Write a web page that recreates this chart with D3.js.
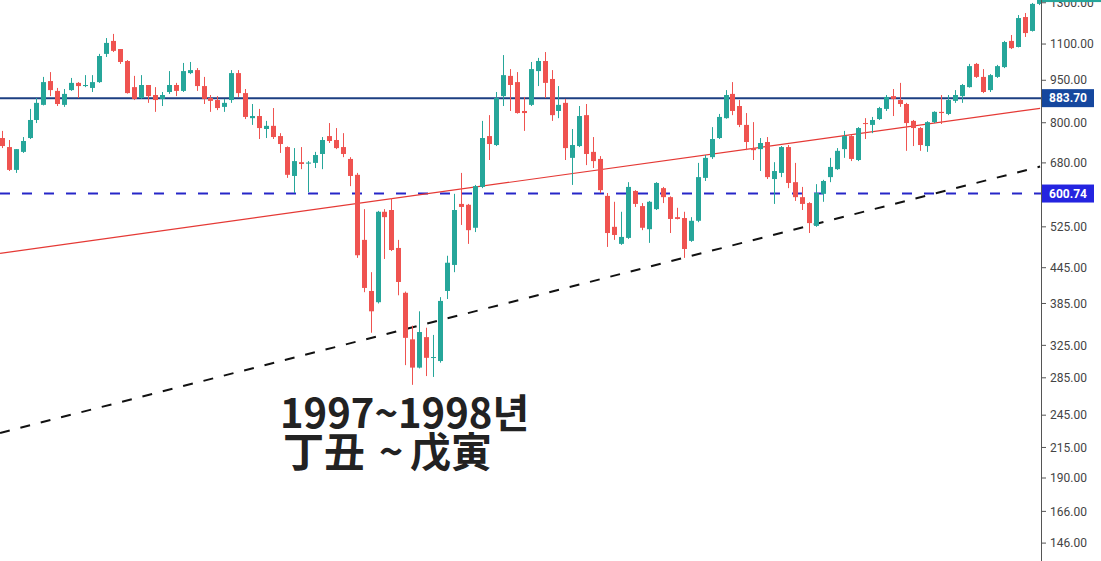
<!DOCTYPE html>
<html>
<head>
<meta charset="utf-8">
<script src="https://cdn.jsdelivr.net/npm/d3@7"></script>
<style>
  body { margin: 0; background: #fff; }
  svg { display: block; }
</style>
</head>
<body>
<svg id="chart" width="1101" height="561"></svg>
<script>
// monthly candles (log price axis)
const opens = [752,725,661,711,752,809,860,947,910,860,913,940,928,921,943,1057,1114,1078,1027,924,
  884,932,895,881,906,932,910,978,990,928,884,877,853,877,978,902,815,822,780,790,
  758,725,645,682,678,680,705,758,746,725,691,648,498,405,387,558,562,482,402,333,
  297,336,309,305,405,450,576,574,523,617,758,731,891,967,943,839,860,986,1027,955,
  839,867,694,728,825,711,691,595,525,490,502,607,571,520,564,614,592,546,544,496,
  538,640,696,752,815,899,856,793,722,719,740,637,653,725,629,592,578,527,600,642,
  663,719,758,688,799,793,812,846,891,877,863,806,783,728,802,836,829,874,891,924,
  1015,963,913,963,1002,1114,1087,1227,1160,1294];
const highs = [774,746,719,755,846,884,963,982,921,917,959,943,970,970,1057,1127,1146,1078,1031,967,
  970,932,924,906,986,940,1019,1023,998,963,895,891,881,990,990,917,863,846,806,849,
  767,727,722,725,685,711,755,799,783,767,696,653,564,437,560,564,590,498,404,352,
  373,349,339,395,467,600,653,576,622,806,825,906,1052,994,982,888,1023,1040,1065,990,
  928,881,780,856,863,755,699,602,581,558,629,609,578,583,629,617,594,567,558,546,
  680,702,786,829,913,943,877,832,802,752,755,682,728,731,680,617,580,624,635,694,
  722,774,761,786,815,819,853,895,917,940,867,809,786,805,838,895,895,913,936,1015,
  1019,994,974,1011,1114,1141,1237,1247,1299,1360];
const lows = [722,658,653,708,749,799,858,891,856,853,910,884,924,906,940,1044,1065,1015,900,877,
  881,867,836,856,899,891,906,974,910,863,836,842,836,867,888,812,793,749,752,749,
  708,640,602,663,604,666,663,737,719,696,619,463,403,342,385,461,476,398,300,277,
  296,287,286,303,392,437,529,490,514,614,688,728,856,839,830,774,856,928,884,806,
  815,688,622,725,674,666,602,484,498,488,500,569,518,492,562,578,512,541,463,494,
  535,632,691,749,813,825,786,716,688,658,637,576,642,614,583,562,512,525,581,629,
  661,694,685,685,749,767,809,839,822,853,714,728,714,711,799,796,825,867,867,922,
  959,902,906,959,998,1078,1085,1132,1157,1288];
const closes = [728,661,719,743,809,867,943,913,863,899,940,928,932,943,1048,1105,1070,1023,902,881,
  932,891,877,895,932,910,986,990,928,881,874,849,867,978,902,819,822,783,790,755,
  734,648,685,677,681,702,746,743,722,705,645,468,410,373,558,546,478,420,335,297,
  343,309,310,389,454,562,569,518,619,752,734,884,970,932,832,832,994,1027,940,825,
  860,722,731,822,705,685,609,512,508,504,617,576,523,581,627,592,542,542,480,538,
  642,694,749,819,895,839,793,740,716,737,642,658,725,627,592,576,533,602,632,669,
  714,758,691,783,796,809,849,888,881,863,799,783,731,802,836,832,877,895,932,1006,
  963,906,970,1006,1109,1082,1222,1150,1294,1352];

// price axis
const tickValues = [1300, 1100, 950, 800, 680, 525, 445, 385, 325, 285, 245, 215, 190, 166, 146];
const levelPrices = [883.70, 600.74];
const levelColors = ['#1c3f82', '#2626c8'];
const levelBoxColors = ['#15479e', '#2424e0'];

// trend lines, anchored by [candle index, price]
const redTrend = [[-0.24, 471.7], [149.2, 848.1]];
const blackTrend = [[-0.24, 228.0], [149.2, 670.0]];

const captionTop = '1997~1998년';
const captionBottom = ['丁丑', '~', '戊寅'];

const width = 1101, height = 561;
const plotRight = 1041;

const svg = d3.select('#chart');

const x = d3.scaleLinear().domain([0, opens.length - 1]).range([1.7, 1038.7]);
const y = d3.scaleLog().domain([135.8, 1314.6]).range([height, 0]);

const candles = opens.map((o, i) => ({ i, o, h: highs[i], l: lows[i], c: closes[i] }));

const plot = svg.append('g');
plot.append('clipPath').attr('id', 'clip')
  .append('rect').attr('x', 0).attr('y', 0).attr('width', plotRight).attr('height', height);
const inner = plot.append('g').attr('clip-path', 'url(#clip)');

// horizontal levels
inner.selectAll('line.level')
  .data(levelPrices)
  .enter().append('line')
  .attr('class', 'level')
  .attr('x1', 0).attr('x2', plotRight)
  .attr('y1', d => y(d)).attr('y2', d => y(d))
  .attr('stroke', (d, k) => levelColors[k])
  .attr('stroke-width', 2)
  .attr('stroke-dasharray', (d, k) => k === 1 ? '10,12' : null);

// red trend line
inner.append('line')
  .attr('x1', x(redTrend[0][0])).attr('y1', y(redTrend[0][1]))
  .attr('x2', x(redTrend[1][0])).attr('y2', y(redTrend[1][1]))
  .attr('stroke', '#e53935').attr('stroke-width', 1.2);

// black dashed trend line
inner.append('line')
  .attr('x1', x(blackTrend[0][0])).attr('y1', y(blackTrend[0][1]))
  .attr('x2', x(blackTrend[1][0])).attr('y2', y(blackTrend[1][1]))
  .attr('stroke', '#111').attr('stroke-width', 2)
  .attr('stroke-dasharray', '10,11');

// candles
const up = '#26a69a', down = '#ef5350';
const bodyW = 5;
const g = inner.selectAll('g.candle')
  .data(candles)
  .enter().append('g')
  .attr('class', 'candle');

g.append('line')
  .attr('x1', d => Math.round(x(d.i)) + 0.5)
  .attr('x2', d => Math.round(x(d.i)) + 0.5)
  .attr('y1', d => y(d.h))
  .attr('y2', d => y(d.l))
  .attr('stroke', d => d.c >= d.o ? up : down)
  .attr('stroke-width', 1);

g.append('rect')
  .attr('x', d => Math.round(x(d.i)) + 0.5 - bodyW / 2)
  .attr('y', d => y(Math.max(d.o, d.c)))
  .attr('width', bodyW)
  .attr('height', d => Math.max(1, y(Math.min(d.o, d.c)) - y(Math.max(d.o, d.c))))
  .attr('fill', d => d.c >= d.o ? up : down);

// price axis on the right
const axis = svg.append('g');
axis.append('line')
  .attr('x1', plotRight + 0.5).attr('x2', plotRight + 0.5)
  .attr('y1', 0).attr('y2', height)
  .attr('stroke', '#555');

const fmt = d3.format('.2f');
const ticks = axis.selectAll('g.tick')
  .data(tickValues)
  .enter().append('g')
  .attr('class', 'tick')
  .attr('transform', d => `translate(0,${y(d)})`);
ticks.append('line')
  .attr('x1', plotRight).attr('x2', plotRight + 5)
  .attr('stroke', '#555');
ticks.append('text')
  .attr('x', plotRight + 9)
  .attr('dy', '0.35em')
  .style('font-family', 'Roboto, "DejaVu Sans", sans-serif')
  .style('font-size', '12px')
  .style('fill', '#444')
  .text(d => fmt(d));

// last price label (mostly above the top edge)
const last = closes[closes.length - 1];
axis.append('rect')
  .attr('x', plotRight + 1).attr('y', y(last) - 9)
  .attr('width', 60).attr('height', 18)
  .attr('fill', up);

// level labels
const labels = axis.selectAll('g.lvl')
  .data(levelPrices)
  .enter().append('g')
  .attr('class', 'lvl')
  .attr('transform', d => `translate(0,${y(d)})`);
labels.append('rect')
  .attr('x', plotRight + 1).attr('y', -9)
  .attr('width', 52).attr('height', 18)
  .attr('fill', (d, k) => levelBoxColors[k]);
labels.append('text')
  .attr('x', plotRight + 27)
  .attr('dy', '0.36em')
  .attr('text-anchor', 'middle')
  .style('font-family', 'Roboto, "DejaVu Sans", sans-serif')
  .style('font-size', '12px')
  .style('font-weight', 'bold')
  .style('fill', '#fff')
  .text(d => fmt(d));

// caption, two lines in one text element
const cap = svg.append('text')
  .style('font-family', '"Noto Sans CJK KR", "Noto Sans", sans-serif')
  .style('font-weight', 'bold')
  .style('fill', '#222');
cap.append('tspan')
  .attr('x', 280).attr('y', 428)
  .style('font-size', '40px')
  .text(captionTop);
const bottomX = [283, 379, 410];
captionBottom.forEach((t, k) => {
  cap.append('tspan')
    .attr('x', bottomX[k]).attr('y', 467)
    .style('font-size', '41px')
    .text(t);
});
</script>
</body>
</html>
